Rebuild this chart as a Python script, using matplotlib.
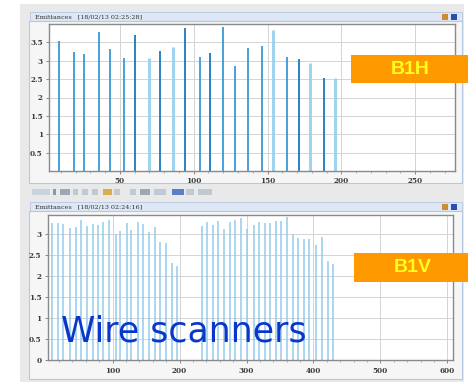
import matplotlib
matplotlib.use("Agg")
import matplotlib.pyplot as plt
from matplotlib.patches import Rectangle
from matplotlib.ticker import FuncFormatter, MultipleLocator

# ---- data -------------------------------------------------------------
# B1H emittance per bunch (horizontal plane)
b1h_bunch = [9, 19, 26, 36, 43, 53, 60, 70, 77, 86, 94, 104, 111, 120,
             128, 137, 146, 154, 163, 171, 179, 188, 196]
b1h_emit = [3.54, 3.24, 3.19, 3.78, 3.32, 3.08, 3.71, 3.07, 3.27, 3.38,
            3.89, 3.09, 3.20, 3.92, 2.87, 3.36, 3.40, 3.85, 3.09, 3.06,
            2.94, 2.53, 2.53]

# B1V emittance per bunch (vertical plane)
b1v_bunch = [9, 19, 26, 36, 45, 53, 62, 70, 78, 86, 95, 105, 111, 121,
             128, 138, 145, 154, 163, 171, 179, 188, 196,
             233, 241, 250, 258, 266, 275, 283, 292, 300, 311, 319, 327,
             335, 344, 352, 360, 369, 377, 386, 394, 404, 413, 421, 429]
b1v_emit = [3.28, 3.26, 3.24, 3.14, 3.18, 3.34, 3.20, 3.25, 3.21, 3.29,
            3.34, 3.01, 3.09, 3.26, 3.10, 3.29, 3.24, 3.06, 3.17, 2.82,
            2.79, 2.31, 2.25,
            3.20, 3.30, 3.23, 3.32, 3.13, 3.30, 3.33, 3.38, 3.13, 3.23,
            3.29, 3.26, 3.26, 3.32, 3.32, 3.42, 3.00, 2.92, 2.90, 2.90,
            2.75, 2.94, 2.36, 2.29]

top_xticks = [50, 100, 150, 200, 250]
top_yticks = [0.5, 1, 1.5, 2, 2.5, 3, 3.5]
bot_xticks = [100, 200, 300, 400, 500, 600]
bot_yticks = [0, 0.5, 1, 1.5, 2, 2.5, 3]

# ---- styling ----------------------------------------------------------
MED, DARK, LIGHT = "#3a9ad6", "#1a78be", "#9fd3ee"
b1h_colors = [MED, MED, MED, MED, MED, MED, DARK, LIGHT, DARK, LIGHT,
              DARK, MED, DARK, MED, MED, MED, MED, LIGHT, MED, DARK,
              LIGHT, DARK, LIGHT]
b1h_widths = [2.2 if c == LIGHT else 1.3 for c in b1h_colors]

W, H = 468, 383
fig = plt.figure(figsize=(W / 100, H / 100), dpi=100)
fig.patch.set_facecolor("white")


def fx(x):
    return x / W


def fy(y):
    return 1 - y / H


def rect(x0, y0, x1, y1, fc, ec="none", lw=0.8, z=0.0):
    fig.add_artist(Rectangle((fx(x0), fy(y1)), fx(x1) - fx(x0),
                             fy(y0) - fy(y1), transform=fig.transFigure,
                             facecolor=fc, edgecolor=ec, linewidth=lw,
                             zorder=z))


def window(top, bottom, title_y, title):
    # outer grey window
    rect(20, top, 464, bottom, "#e9e9e9", z=-3)
    # title bar
    rect(30, title_y, 462, title_y + 9, "#dde7f5", ec="#b6c7e0", lw=0.6, z=-2)
    fig.text(fx(35), fy(title_y + 4.8), title, fontsize=4.6,
             family="DejaVu Serif", color="#333333", va="center", zorder=-1)
    # icons on the title bar
    rect(442, title_y + 1.5, 448, title_y + 7.5, "#d08a30", z=-1)
    rect(451, title_y + 1.5, 457, title_y + 7.5, "#2a4fb0", z=-1)
    # panel frame
    rect(29, title_y + 9, 462, bottom - 3, "#f6f6f6", ec="#b6c7e0", lw=0.8,
         z=-2)


window(4, 186, 12, "Emittances   [18/02/13 02:25:28]")
window(186, 382, 202, "Emittances   [18/02/13 02:24:16]")

# toolbar between the two panels
for x0, x1, c in [(32, 50, "#c9d3df"), (53, 56, "#8899aa"), (60, 70, "#9aa8b8"),
                  (73, 78, "#c0c8d2"), (82, 88, "#c0c8d2"), (92, 98, "#c0c8d2"),
                  (103, 112, "#d8b04a"), (114, 120, "#c0c8d2"),
                  (130, 136, "#c0c8d2"), (140, 150, "#9aa8b8"),
                  (154, 166, "#c0c8d2"), (172, 184, "#5a7fc8"),
                  (186, 194, "#c0c8d2"), (198, 212, "#c0c8d2")]:
    rect(x0, 189, x1, 195, c, z=-1)


def fmt(v, _):
    return f"{v:g}"


def style_axes(ax, xticks, yticks, xlim, ylim):
    ax.set_zorder(1)
    ax.set_xlim(*xlim)
    ax.set_ylim(*ylim)
    ax.set_xticks(xticks)
    ax.set_yticks(yticks)
    ax.xaxis.set_major_formatter(FuncFormatter(fmt))
    ax.yaxis.set_major_formatter(FuncFormatter(fmt))
    ax.xaxis.set_minor_locator(MultipleLocator(10 if xlim[1] < 300 else 20))
    ax.grid(True, which="major", color="#d4d4d4", linewidth=0.7, zorder=0)
    ax.set_axisbelow(True)
    ax.set_facecolor("white")
    for s in ax.spines.values():
        s.set_color("#8a8a8a")
        s.set_linewidth(1.0)
    ax.tick_params(which="major", length=2.5, width=0.6, color="#777777",
                   labelsize=5.2, labelcolor="#3a3a3a", pad=2)
    ax.tick_params(which="minor", length=1.3, width=0.5, color="#7a9ac0")
    for lab in ax.get_xticklabels() + ax.get_yticklabels():
        lab.set_family("DejaVu Serif")
        lab.set_weight("bold")


# top panel: B1H
ax1 = fig.add_axes([fx(49), fy(171), fx(455) - fx(49), fy(24) - fy(171)])
ax1.vlines(b1h_bunch, 0, b1h_emit, colors=b1h_colors, linewidths=b1h_widths,
           zorder=2)
style_axes(ax1, top_xticks, top_yticks, (2, 277), (0, 4.0))

# bottom panel: B1V
ax2 = fig.add_axes([fx(47.7), fy(360.3), fx(452.7) - fx(47.7),
                    fy(215) - fy(360.3)])
ax2.vlines(b1v_bunch, 0, b1v_emit, colors="#93cce9", linewidths=1.1, zorder=2)
style_axes(ax2, bot_xticks, bot_yticks, (3, 608), (0, 3.46))

# plane labels
rect(351, 55, 470, 83, "#ff9900", z=5)
fig.text(fx(410), fy(69.5), "B1H", fontsize=14, weight="bold",
         family="Liberation Sans", color="#ffff1a", ha="center", va="center",
         zorder=6)
rect(354, 253, 470, 282, "#ff9900", z=5)
fig.text(fx(413), fy(268), "B1V", fontsize=14, weight="bold",
         family="Liberation Sans", color="#ffff1a", ha="center", va="center",
         zorder=6)

fig.text(fx(61), fy(341.7), "Wire scanners", fontsize=25,
         family="DejaVu Sans", color="#0a36cc", ha="left", va="baseline",
         zorder=6)

fig.savefig("out.png", dpi=100, facecolor="white")
